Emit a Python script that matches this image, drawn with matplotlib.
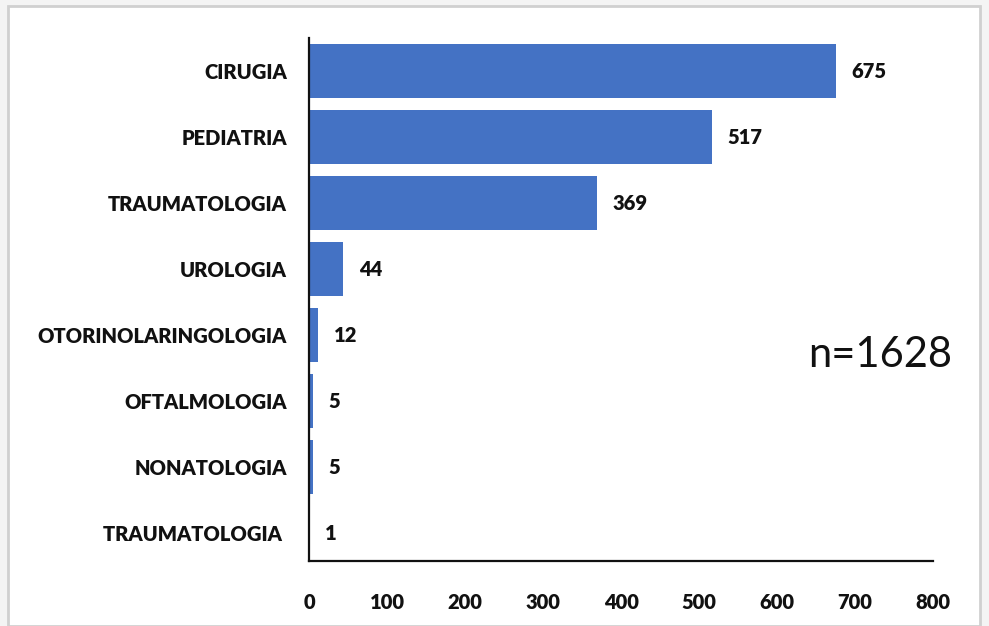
import matplotlib
matplotlib.use("Agg")
import matplotlib.pyplot as plt
from matplotlib.patches import Rectangle

# Datos
categorias = ["CIRUGIA", "PEDIATRIA", "TRAUMATOLOGIA", "UROLOGIA",
              "OTORINOLARINGOLOGIA", "OFTALMOLOGIA", "NONATOLOGIA", "TRAUMATOLOGIA "]
valores = [675, 517, 369, 44, 12, 5, 5, 1]
xticks = [0, 100, 200, 300, 400, 500, 600, 700, 800]

plt.rcParams['font.family'] = ['Lato', 'DejaVu Sans']

fig = plt.figure(figsize=(9.89, 6.26), dpi=100)
fig.patch.set_facecolor('#f4f4f4')

# Marco blanco con borde gris (detrás de los ejes)
fig.patches.append(Rectangle((8 / 989, 0), 972 / 989, 1 - 6 / 626,
                             transform=fig.transFigure, facecolor='white',
                             edgecolor='#d0d0d0', linewidth=2, zorder=-10))

ax = fig.add_axes([309 / 989, 1 - 561 / 626, 624 / 989, 523 / 626])
ax.set_facecolor('none')
ax.set_zorder(1)

pos = list(range(len(categorias)))
ax.barh(pos, valores, height=0.82, color='#4472C4')

for p, v in zip(pos, valores):
    ax.text(v + 20, p, str(v), va='center', ha='left',
            fontsize=14.5, fontweight='heavy', color='#111111')

ax.set_yticks(pos)
ax.set_yticklabels(categorias, fontsize=14.5, fontweight='heavy', color='#111111')
ax.set_xticks(xticks)
ax.set_xticklabels([str(t) for t in xticks], fontsize=14.5, fontweight='heavy', color='#111111')
ax.set_xlim(0, 800)
ax.set_ylim(7.42, -0.5)

ax.tick_params(axis='y', length=0, pad=16)
ax.tick_params(axis='x', length=0, pad=23)

ax.spines['top'].set_visible(False)
ax.spines['right'].set_visible(False)
ax.spines['left'].set_linewidth(1.6)
ax.spines['bottom'].set_linewidth(1.6)
ax.spines['left'].set_color('#111111')
ax.spines['bottom'].set_color('#111111')

fig.text(880 / 989, 1 - 355 / 626, "n=1628", fontsize=30, ha='center', va='center',
         color='#111111')

plt.savefig("out.png", dpi=100, facecolor=fig.get_facecolor())
plt.close()
